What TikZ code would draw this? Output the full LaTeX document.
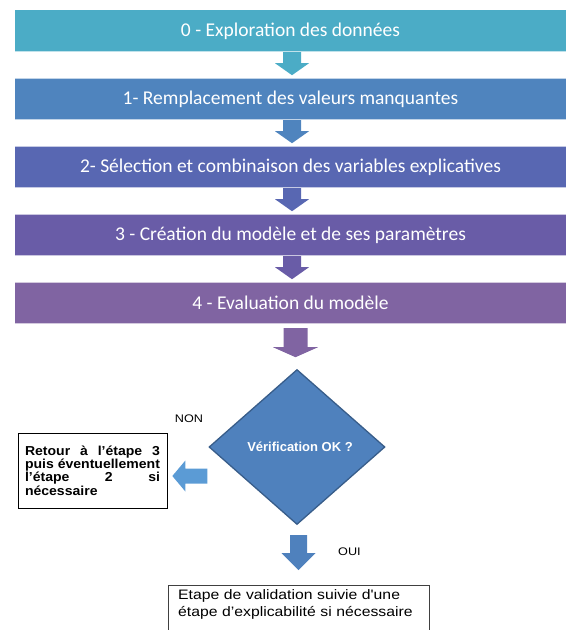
\documentclass[tikz,border=0pt]{standalone}
\usepackage{fontspec}
\setmainfont{Liberation Sans}
\newfontfamily\bannerfont{Carlito}
\newfontfamily\arialw[FakeStretch=1.15]{Liberation Sans}
\newfontfamily\arialb[FakeStretch=1.08]{Liberation Sans}
\usetikzlibrary{shapes.geometric,calc}

\definecolor{cA}{HTML}{4BACC6}
\definecolor{cB}{HTML}{4F84BE}
\definecolor{cC}{HTML}{5867B2}
\definecolor{cD}{HTML}{695CA7}
\definecolor{cE}{HTML}{8064A2}
\definecolor{dia}{HTML}{4F81BD}
\definecolor{diaedge}{HTML}{385D8A}
\definecolor{back}{HTML}{5B9BD5}

\tikzset{
  banner/.style={rectangle, inner sep=0pt, minimum width=551pt, minimum height=42pt,
    text=white, font=\bannerfont\fontsize{19.5pt}{22pt}\selectfont},
  smalldown/.pic={\fill (-9,0) -- (9,0) -- (9,11) -- (17,11) -- (0,23) -- (-17,11) -- (-9,11) -- cycle;},
  bigdown/.pic={\fill (-12,0) -- (12,0) -- (12,19) -- (22.5,19) -- (0,29) -- (-22.5,19) -- (-12,19) -- cycle;},
  ouidown/.pic={\fill (-8.5,0) -- (8.5,0) -- (8.5,18) -- (17,18) -- (0,35) -- (-17,18) -- (-8.5,18) -- cycle;},
  backleft/.pic={\fill (0,-7.5) -- (0,7.5) -- (-22,7.5) -- (-22,15.5) -- (-35,0) -- (-22,-15.5) -- (-22,-7.5) -- cycle;},
  tag/.style={font=\arialw\fontsize{11pt}{13pt}\selectfont, inner sep=0pt},
}

\begin{document}
\begin{tikzpicture}[x=1pt,y=-1pt]
\useasboundingbox (0,0) rectangle (566,630);
\clip (0,0) rectangle (566,630);

% pipeline steps
\node[banner, fill=cA] (s0) at (290.5,31) {0 - Exploration des données};
\node[banner, fill=cB] (s1) at (290.5,99) {1- Remplacement des valeurs manquantes};
\node[banner, fill=cC] (s2) at (290.5,167) {2- Sélection et combinaison des variables explicatives};
\node[banner, fill=cD] (s3) at (290.5,235) {3 - Création du modèle et de ses paramètres};
\node[banner, fill=cE] (s4) at (290.5,303) {4 - Evaluation du modèle};

% light rims along the step edges
\foreach \n/\c in {s0/cA,s1/cB,s2/cC,s3/cD,s4/cE}{
  \draw[\c!35!white, line width=1.2pt] ([yshift=0.6pt]\n.south west) -- ([yshift=0.6pt]\n.south east);
}
\foreach \n/\c in {s1/cB,s2/cC,s3/cD,s4/cE}{
  \draw[\c!35!white, line width=1pt] ([yshift=-0.5pt]\n.north west) -- ([yshift=-0.5pt]\n.north east);
}

% block arrows between the steps
\path ([xshift=1.5pt]s0.south) pic[fill=cA] {smalldown};
\path ([xshift=1.5pt]s1.south) pic[fill=cB] {smalldown};
\path ([xshift=1.5pt]s2.south) pic[fill=cC] {smalldown};
\path ([xshift=1.5pt]s3.south) pic[fill=cD] {smalldown};
\path ([xshift=5pt,yshift=-4pt]s4.south) pic[fill=cE] {bigdown};

% decision
\node[diamond, draw=diaedge, line width=1.3pt, fill=dia, inner sep=0pt,
      minimum width=176pt, minimum height=155pt, text=white,
      font=\bfseries\fontsize{13pt}{15pt}\selectfont] (chk) at (297,447) {\hspace*{6pt}Vérification OK ?};

% negative branch
\node[tag] (non) at (189,419) {NON};
\node[draw=black, line width=0.9pt, rectangle, text width=135pt, align=justify,
      inner xsep=7pt, inner ysep=0pt, minimum height=75pt,
      font=\arialb\bfseries\fontsize{13pt}{13.3pt}\selectfont] (back) at (92.5,470.5)
  {\hyphenpenalty=10000 \exhyphenpenalty=10000 Retour à l’étape 3 puis éventuellement l’étape 2 si nécessaire\par\vspace*{18pt}};
\path ([xshift=-1pt,yshift=-29pt]chk.west) pic[fill=back] {backleft};

% positive branch
\path ([xshift=1.5pt,yshift=-10pt]chk.south) pic[fill=dia] {ouidown};
\node[tag, anchor=west] (oui) at (338,552) {OUI};
\node[anchor=north west, text width=241pt, align=left, inner xsep=10pt, inner ysep=4pt,
      font=\arialw\fontsize{13.7pt}{17.5pt}\selectfont] (fin) at (168,585)
  {Etape de validation suivie d'une étape d’explicabilité si nécessaire};
\draw[draw=black!75, line width=1pt] ([yshift=-30pt]fin.south west) -- (fin.north west)
  -- (fin.north east) -- ([yshift=-30pt]fin.south east);
\end{tikzpicture}
\end{document}
